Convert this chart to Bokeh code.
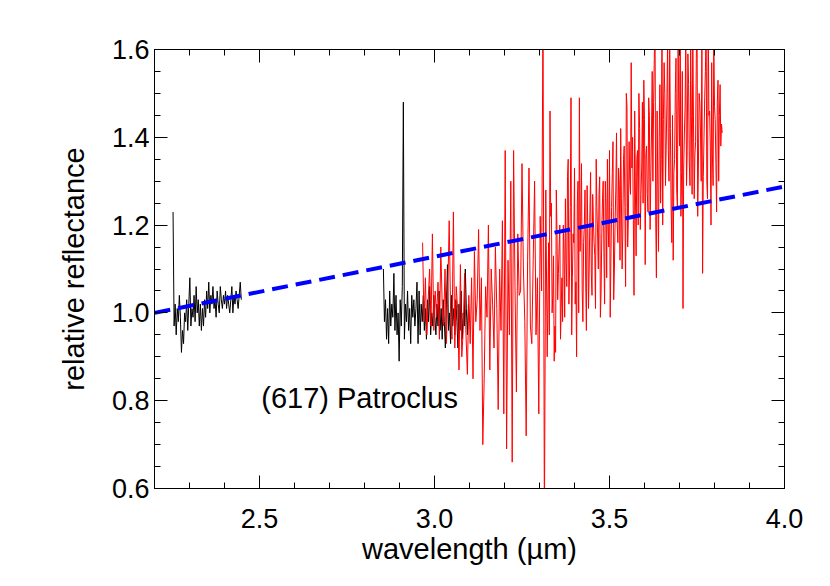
from bokeh.plotting import figure
from bokeh.models import LinearAxis, FixedTicker, Range1d, Label
from bokeh.embed import file_html
from bokeh.resources import INLINE

# ---------------- data ----------------
black1_x = [2.253, 2.256, 2.259, 2.262, 2.265, 2.268, 2.271, 2.274, 2.277, 2.280,
            2.283, 2.286, 2.289, 2.292, 2.295, 2.298, 2.301, 2.304, 2.307, 2.310,
            2.313, 2.316, 2.319, 2.322, 2.325, 2.328, 2.331, 2.334, 2.337, 2.340,
            2.343, 2.346, 2.349, 2.352, 2.355, 2.358, 2.361, 2.364, 2.367, 2.370,
            2.373, 2.376, 2.379, 2.382, 2.385, 2.388, 2.391, 2.394, 2.397, 2.400,
            2.403, 2.406, 2.409, 2.412, 2.415, 2.418, 2.421, 2.424, 2.427, 2.430,
            2.433, 2.436, 2.439, 2.442, 2.445, 2.448]
black1_y = [1.23, 0.97, 1.02, 0.95, 1.01, 0.98, 1.04, 0.99, 0.91, 0.96,
            0.93, 1.00, 0.98, 1.03, 0.96, 1.02, 1.08, 0.97, 1.01, 0.99,
            1.04, 0.98, 1.06, 1.00, 1.03, 0.97, 1.02, 0.96, 1.01, 0.97,
            1.03, 0.99, 1.05, 1.01, 1.07, 1.00, 1.04, 1.02, 1.06, 1.01,
            1.03, 0.99, 1.05, 1.02, 1.00, 1.06, 1.03, 1.01, 1.04, 1.02,
            1.05, 1.01, 1.04, 1.02, 1.00, 1.03, 1.06, 1.00, 1.04, 1.02,
            1.05, 1.03, 1.01, 1.04, 1.07, 1.03]

black2_x = [2.854, 2.857, 2.860, 2.863, 2.866, 2.869, 2.872, 2.875, 2.878, 2.881,
            2.884, 2.887, 2.890, 2.893, 2.896, 2.899, 2.902, 2.905, 2.908, 2.911,
            2.914, 2.917, 2.920, 2.923, 2.926, 2.929, 2.932, 2.935, 2.938, 2.941,
            2.944, 2.947, 2.950, 2.953, 2.956, 2.959, 2.962, 2.965, 2.968, 2.971,
            2.974, 2.977, 2.980, 2.983, 2.986, 2.989, 2.992, 2.995, 2.998, 3.001,
            3.004, 3.007, 3.010, 3.013, 3.016, 3.019, 3.022, 3.025, 3.028, 3.031,
            3.034, 3.037, 3.040, 3.043, 3.046, 3.049, 3.052, 3.055, 3.058, 3.061,
            3.064, 3.067, 3.070, 3.073, 3.076, 3.079, 3.082, 3.085, 3.088, 3.091,
            3.094, 3.097, 3.100]
black2_y = [1.10, 0.98, 1.03, 0.94, 1.01, 0.93, 1.05, 0.97, 1.02, 0.99,
            1.09, 0.96, 1.04, 0.95, 1.00, 0.89, 1.03, 0.97, 1.06, 1.48,
            0.94, 1.02, 0.98, 1.05, 0.96, 1.01, 0.93, 1.04, 0.99, 1.03,
            0.97, 1.01, 1.07, 0.93, 1.05, 0.95, 1.02, 0.98, 1.04, 0.96,
            1.01, 0.94, 1.03, 0.98, 1.06, 0.95, 1.00, 0.97, 1.04, 0.99,
            0.95, 1.02, 0.97, 1.05, 0.96, 1.01, 0.94, 1.03, 0.98, 0.92,
            1.02, 1.11, 0.96, 1.00, 0.93, 1.04, 0.97, 1.01, 0.95, 1.03,
            0.98, 0.92, 1.02, 0.96, 1.05, 0.94, 1.00, 0.97, 1.10, 1.01,
            0.95, 1.02, 0.98]

red_x = [2.966, 2.970, 2.974, 2.978, 2.982, 2.986, 2.990, 2.994, 2.998, 3.002,
         3.006, 3.010, 3.014, 3.018, 3.022, 3.026, 3.030, 3.034, 3.038, 3.042,
         3.046, 3.050, 3.054, 3.058, 3.062, 3.066, 3.070, 3.074, 3.078, 3.082,
         3.086, 3.090, 3.094, 3.098, 3.102, 3.106, 3.110, 3.114, 3.118, 3.122,
         3.126, 3.130, 3.134, 3.138, 3.142, 3.146, 3.150, 3.154, 3.158, 3.162,
         3.166, 3.170, 3.174, 3.178, 3.182, 3.186, 3.190, 3.194, 3.198, 3.202,
         3.206, 3.210, 3.214, 3.218, 3.222, 3.226, 3.230, 3.234, 3.238, 3.242,
         3.246, 3.250, 3.254, 3.258, 3.262, 3.266, 3.270, 3.274, 3.278, 3.282,
         3.286, 3.290, 3.294, 3.298, 3.302, 3.306, 3.310, 3.314, 3.318, 3.322,
         3.326, 3.330, 3.334, 3.338, 3.342, 3.346, 3.350, 3.354, 3.358, 3.362,
         3.366, 3.370, 3.374, 3.378, 3.382, 3.386, 3.390, 3.394, 3.398, 3.402,
         3.406, 3.410, 3.414, 3.418, 3.422, 3.426, 3.430, 3.434, 3.438, 3.442,
         3.446, 3.450, 3.454, 3.458, 3.462, 3.466, 3.470, 3.474, 3.478, 3.482,
         3.486, 3.490, 3.494, 3.498, 3.502, 3.506, 3.510, 3.514, 3.518, 3.522,
         3.526, 3.530, 3.534, 3.538, 3.542, 3.546, 3.550, 3.554, 3.558, 3.562,
         3.566, 3.570, 3.574, 3.578, 3.582, 3.586, 3.590, 3.594, 3.598, 3.602,
         3.606, 3.610, 3.614, 3.618, 3.622, 3.626, 3.630, 3.634, 3.638, 3.642,
         3.646, 3.650, 3.654, 3.658, 3.662, 3.666, 3.670, 3.674, 3.678, 3.682,
         3.686, 3.690, 3.694, 3.698, 3.702, 3.706, 3.710, 3.714, 3.718, 3.722,
         3.726, 3.730, 3.734, 3.738, 3.742, 3.746, 3.750, 3.754, 3.758, 3.762,
         3.766, 3.770, 3.774, 3.778, 3.782, 3.786, 3.790, 3.794, 3.798, 3.802,
         3.806, 3.810, 3.814, 3.818, 3.822]
red_y = [1.16, 0.98, 1.08, 0.95, 1.03, 1.10, 0.97, 1.18, 0.96, 1.05,
         0.99, 1.07, 0.94, 1.15, 1.02, 0.97, 1.10, 0.93, 1.05, 1.21,
         1.00, 0.94, 1.23, 0.92, 1.06, 1.01, 0.87, 1.11, 0.90, 0.96,
         1.09, 0.95, 0.86, 1.04, 0.93, 1.08, 0.85, 1.14, 0.98, 1.03,
         1.19, 0.96, 1.08, 0.70, 0.85, 1.06, 0.99, 1.20, 0.87, 1.10,
         1.02, 0.92, 1.15, 1.01, 0.78, 1.10, 0.96, 1.21, 0.77, 1.37,
         0.69, 1.12, 0.95, 1.30, 0.66, 1.37, 1.06, 0.82, 1.18, 1.04,
         1.05, 1.34, 1.10, 0.98, 0.72, 1.12, 1.33, 0.97, 0.93, 1.12,
         1.30, 0.95, 1.08, 0.77, 1.22, 1.05, 1.70, 0.50, 1.28, 0.90,
         1.16, 1.46, 1.25, 1.04, 0.89, 0.91, 1.18, 1.09, 1.20, 1.01,
         0.98, 1.14, 1.26, 1.06, 1.35, 1.10, 1.49, 1.08, 1.16, 1.02,
         0.90, 1.30, 1.49, 1.22, 1.05, 1.16, 1.28, 0.96, 1.19, 1.10,
         1.32, 1.04, 1.21, 1.13, 1.35, 1.18, 1.27, 0.99, 1.18, 1.30,
         1.02, 1.24, 1.35, 1.15, 0.99, 1.24, 1.39, 1.10, 1.28, 1.20,
         1.33, 1.12, 1.26, 1.18, 1.38, 1.06, 1.47, 1.22, 1.30, 1.57,
         1.40, 1.04, 1.28, 1.35, 1.20, 1.42, 1.27, 1.48, 1.53, 1.11,
         1.38, 1.23, 1.45, 1.31, 1.55, 1.48, 1.68, 1.08, 1.29, 1.40,
         1.25, 1.66, 1.44, 1.50, 1.38, 1.62, 1.30, 1.42, 1.16, 1.12,
         1.35, 1.58, 1.24, 1.47, 1.68, 1.32, 1.01, 1.41, 1.63, 1.37,
         1.52, 1.29, 1.45, 1.65, 1.26, 1.39, 1.70, 1.33, 1.48, 1.30,
         1.09, 1.40, 1.55, 1.30, 1.67, 1.46, 1.20, 1.36, 1.62, 1.44,
         1.23, 1.53, 1.45, 1.38, 1.41]

# additional red samples read between the ones above (long-wavelength part)
red2_x = [3.328, 3.332, 3.336, 3.340, 3.344, 3.348, 3.352, 3.356, 3.360, 3.364,
          3.368, 3.372, 3.376, 3.380, 3.384, 3.388, 3.392, 3.396, 3.400, 3.404,
          3.408, 3.412, 3.416, 3.420, 3.424, 3.428, 3.432, 3.436, 3.440, 3.444,
          3.448, 3.452, 3.456, 3.460, 3.464, 3.468, 3.472, 3.476, 3.480, 3.484,
          3.488, 3.492, 3.496, 3.500, 3.504, 3.508, 3.512, 3.516, 3.520, 3.524,
          3.528, 3.532, 3.536, 3.540, 3.544, 3.548, 3.552, 3.556, 3.560, 3.564,
          3.568, 3.572, 3.576, 3.580, 3.584, 3.588, 3.592, 3.596, 3.600, 3.604,
          3.608, 3.612, 3.616, 3.620, 3.624, 3.628, 3.632, 3.636, 3.640, 3.644,
          3.648, 3.652, 3.656, 3.660, 3.664, 3.668, 3.672, 3.676, 3.680, 3.684,
          3.688, 3.692, 3.696, 3.700, 3.704, 3.708, 3.712, 3.716, 3.720, 3.724,
          3.728, 3.732, 3.736, 3.740, 3.744, 3.748, 3.752, 3.756, 3.760, 3.764,
          3.768, 3.772, 3.776, 3.780, 3.784, 3.788, 3.792, 3.796, 3.800, 3.804,
          3.808, 3.812, 3.816, 3.820]
red2_y = [0.95, 1.22, 1.00, 1.13, 0.97, 1.28, 1.03, 1.15, 0.94, 1.08,
          1.20, 0.99, 1.12, 1.31, 1.02, 1.24, 0.95, 1.18, 1.33, 1.07,
          1.25, 1.00, 1.14, 1.34, 0.98, 1.20, 1.07, 1.29, 1.01, 1.23,
          1.09, 1.27, 1.16, 1.01, 1.24, 1.10, 1.31, 1.05, 1.26, 1.14,
          1.30, 1.08, 1.20, 1.37, 1.12, 1.32, 1.03, 1.21, 1.41, 1.16,
          1.29, 1.42, 1.10, 1.35, 1.24, 1.50, 1.15, 1.39, 1.27, 1.33,
          1.22, 1.46, 1.13, 1.37, 1.50, 1.19, 1.33, 1.25, 1.44, 1.36,
          1.27, 1.49, 1.19, 1.41, 1.30, 1.58, 1.22, 1.46, 1.14, 1.52,
          1.35, 1.20, 1.57, 1.29, 1.48, 1.37, 1.61, 1.24, 1.45, 1.32,
          1.50, 1.28, 1.62, 1.38, 1.22, 1.55, 1.33, 1.47, 1.29, 1.59,
          1.34, 1.60, 1.27, 1.43, 1.36, 1.58, 1.22, 1.50, 1.41, 1.64,
          1.31, 1.49, 1.66, 1.26, 1.45, 1.38, 1.57, 1.29, 1.47, 1.34,
          1.48, 1.30, 1.52, 1.43]

continuum_x = [2.2, 4.0]
continuum_y = [1.0, 1.288]

x_ticks = [2.5, 3.0, 3.5, 4.0]
x_tick_labels = ["2.5", "3.0", "3.5", "4.0"]
x_minor = [2.2, 2.3, 2.4, 2.6, 2.7, 2.8, 2.9, 3.1, 3.2, 3.3, 3.4, 3.6, 3.7, 3.8, 3.9]
y_ticks = [0.6, 0.8, 1.0, 1.2, 1.4, 1.6]
y_tick_labels = ["0.6", "0.8", "1.0", "1.2", "1.4", "1.6"]
y_minor = [0.65, 0.7, 0.75, 0.85, 0.9, 0.95, 1.05, 1.1, 1.15,
           1.25, 1.3, 1.35, 1.45, 1.5, 1.55]

label_text = "(617) Patroclus"
label_x = 2.505
label_y = 0.807

FONT = "Liberation Sans"
TICK_FS = "27px"
TITLE_FS = "29px"

# merge the two red sample sets into one spectrum, ordered by wavelength
red_pairs = sorted(zip(red_x + red2_x, red_y + red2_y))
red_all_x = [a for a, b in red_pairs]
red_all_y = [b for a, b in red_pairs]

# ---------------- figure ----------------
p = figure(output_backend="svg", toolbar_location=None,
           frame_width=630, frame_height=439,
           min_border_left=154, min_border_top=49,
           min_border_right=38, min_border_bottom=90,
           x_range=Range1d(2.2, 4.0), y_range=Range1d(0.6, 1.6))
p.grid.visible = False
p.outline_line_color = "black"
p.outline_line_width = 1
p.background_fill_color = "white"
p.border_fill_color = "white"


def style_axis(ax, ticks, minor, labels, show_labels):
    ax.ticker = FixedTicker(ticks=ticks, minor_ticks=minor)
    ax.axis_line_color = "black"
    ax.major_tick_line_color = "black"
    ax.minor_tick_line_color = "black"
    ax.major_tick_in = 13
    ax.major_tick_out = 0
    ax.minor_tick_in = 6
    ax.minor_tick_out = 0
    ax.major_label_text_font = FONT
    ax.major_label_text_color = "black"
    ax.major_label_text_font_size = TICK_FS
    ax.axis_label_text_font = FONT
    ax.axis_label_text_font_style = "normal"
    ax.axis_label_text_font_size = TITLE_FS
    ax.axis_label_text_color = "black"
    if show_labels:
        ax.major_label_overrides = {t: l for t, l in zip(ticks, labels)}
    else:
        ax.major_label_overrides = {t: "" for t in ticks}
        ax.major_label_standoff = 0


p.xaxis.axis_label = "wavelength (\u00b5m)"
p.yaxis.axis_label = "relative reflectance"
style_axis(p.xaxis[0], x_ticks, x_minor, x_tick_labels, True)
style_axis(p.yaxis[0], y_ticks, y_minor, y_tick_labels, True)
p.xaxis.major_label_standoff = 20
p.yaxis.major_label_standoff = 5
p.xaxis.axis_label_standoff = 2
p.yaxis.axis_label_standoff = 19

top = LinearAxis()
style_axis(top, x_ticks, x_minor, x_tick_labels, False)
p.add_layout(top, "above")
right = LinearAxis()
style_axis(right, y_ticks, y_minor, y_tick_labels, False)
p.add_layout(right, "right")

p.line(black1_x, black1_y, line_color="black", line_width=1)
p.line(black2_x, black2_y, line_color="black", line_width=1)
p.line(red_all_x, red_all_y, line_color="#ff0000", line_width=1)
p.line(continuum_x, continuum_y, line_color="#0000ff", line_width=4,
       line_dash="16 8")

p.add_layout(Label(x=label_x, y=label_y, text=label_text,
                   text_font=FONT, text_font_size=TITLE_FS, text_color="black",
                   text_baseline="alphabetic", text_align="left"))

open("out.html", "w").write(file_html(p, INLINE))
